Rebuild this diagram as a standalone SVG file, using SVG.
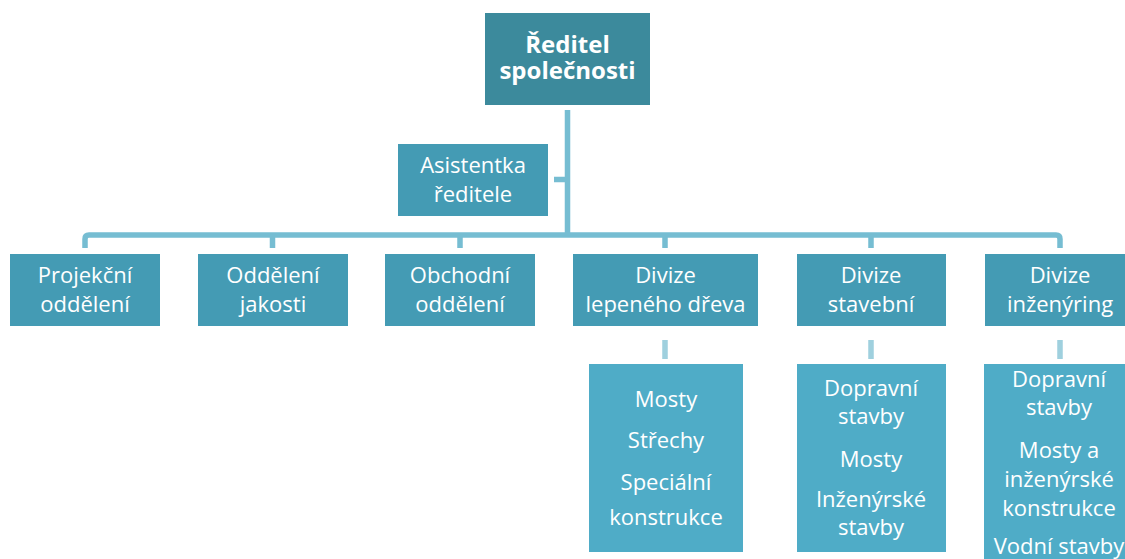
<svg xmlns="http://www.w3.org/2000/svg" width="1125" height="559" viewBox="0 0 1125 559">
<style>
.t{font-family:"Open Sans","Liberation Sans",sans-serif;font-size:22px;fill:#fff;text-anchor:middle}
.b{font-weight:bold;font-size:24px}
.top{fill:#3C8A9C}
.mid{fill:#449BB4}
.low{fill:#4FACC7}
.c{fill:none;stroke:#76BDD2;stroke-width:5.5;stroke-linejoin:round}
.c2{fill:none;stroke:#9FD0DE;stroke-width:5.5}
</style>
<rect width="1125" height="559" fill="#fff"/>
<g id="connectors">
<path class="c" d="M567.5,110 V235 M554,179.5 H567.5 M85,248 V239 Q85,235 89,235 H1056 Q1060,235 1060,239 V248 M272.5,235 V248 M460,235 V248 M665,235 V248 M871,235 V248"/>
<path class="c2" d="M665,340 V359 M871,340 V359 M1060,340 V359"/>
</g>
<g id="reditel"><rect class="top" x="485" y="13" width="165" height="92"/><text class="t b" x="567.5" y="53">Ředitel</text><text class="t b" x="567.5" y="79">společnosti</text></g>
<g id="asistentka"><rect class="mid" x="398" y="144" width="150" height="72"/><text class="t" x="473" y="173">Asistentka</text><text class="t" x="473" y="202">ředitele</text></g>
<g id="projekcni"><rect class="mid" x="10" y="254" width="150" height="72"/><text class="t" x="85" y="283">Projekční</text><text class="t" x="85" y="312">oddělení</text></g>
<g id="jakost"><rect class="mid" x="198" y="254" width="150" height="72"/><text class="t" x="273" y="283">Oddělení</text><text class="t" x="273" y="312">jakosti</text></g>
<g id="obchodni"><rect class="mid" x="385" y="254" width="150" height="72"/><text class="t" x="460" y="283">Obchodní</text><text class="t" x="460" y="312">oddělení</text></g>
<g id="drevo"><rect class="mid" x="573" y="254" width="185" height="72"/><text class="t" x="665.5" y="283">Divize</text><text class="t" x="665.5" y="312">lepeného dřeva</text></g>
<g id="stavebni"><rect class="mid" x="797" y="254" width="149" height="72"/><text class="t" x="871" y="283">Divize</text><text class="t" x="871" y="312">stavební</text></g>
<g id="inzenyring"><rect class="mid" x="985" y="254" width="150" height="72"/><text class="t" x="1060" y="283">Divize</text><text class="t" x="1060" y="312">inženýring</text></g>
<g id="drevo-list"><rect class="low" x="589" y="364" width="154" height="188"/><text class="t" x="666" y="407">Mosty</text><text class="t" x="666" y="448">Střechy</text><text class="t" x="666" y="490">Speciální</text><text class="t" x="666" y="525">konstrukce</text></g>
<g id="stavebni-list"><rect class="low" x="797" y="364" width="149" height="188"/><text class="t" x="871" y="396">Dopravní</text><text class="t" x="871" y="424">stavby</text><text class="t" x="871" y="467">Mosty</text><text class="t" x="871" y="507">Inženýrské</text><text class="t" x="871" y="535">stavby</text></g>
<g id="inzenyring-list"><rect class="low" x="984" y="364" width="152" height="200"/><text class="t" x="1059" y="387">Dopravní</text><text class="t" x="1059" y="415">stavby</text><text class="t" x="1059" y="458">Mosty a</text><text class="t" x="1059" y="487">inženýrské</text><text class="t" x="1059" y="516">konstrukce</text><text class="t" x="1059" y="554">Vodní stavby</text></g>
</svg>
